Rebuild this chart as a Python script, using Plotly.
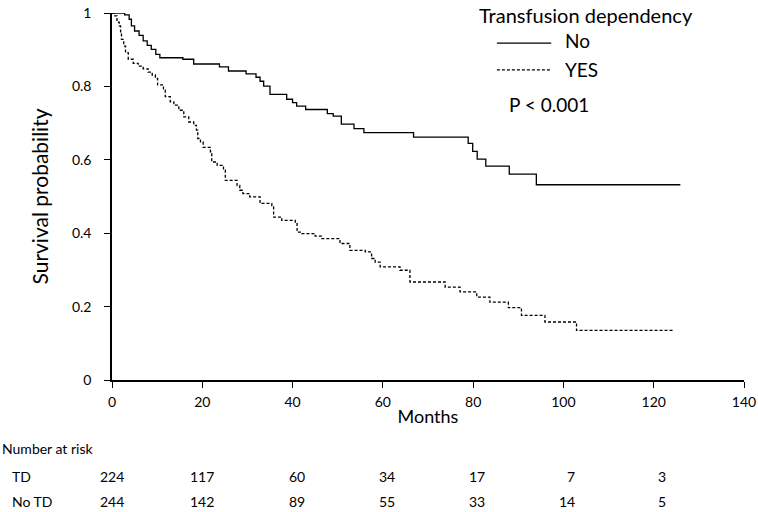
import plotly.graph_objects as go

# ---------------- data ----------------
no_time = [0, 2.8, 3.8, 4.3, 5.0, 6.0, 6.9, 7.8, 8.7, 9.7, 10.6, 15.7, 18.1, 23.8, 25.8,
           29.7, 31.9, 32.8, 33.6, 35.0, 38.7, 40.0, 40.9, 42.9, 47.7, 49.0, 50.8, 53.6,
           55.8, 66.8, 78.9, 79.9, 80.9, 82.8, 88.0, 94.0, 125.9]
no_surv = [1.0, 0.995, 0.983, 0.965, 0.951, 0.939, 0.924, 0.912, 0.901, 0.887, 0.878, 0.874,
           0.861, 0.853, 0.842, 0.834, 0.825, 0.814, 0.801, 0.778, 0.765, 0.756, 0.746, 0.737,
           0.726, 0.719, 0.697, 0.685, 0.674, 0.662, 0.645, 0.623, 0.602, 0.583, 0.561, 0.532,
           0.532]

yes_time = [0, 0.6, 1.1, 1.6, 1.9, 2.1, 2.6, 3.0, 3.6, 4.7, 5.8, 6.9, 8.0, 8.9, 9.6, 10.1,
            11.4, 11.8, 12.9, 13.7, 14.8, 15.9, 17.0, 18.1, 18.7, 19.0, 19.6, 20.2, 21.8,
            22.1, 23.3, 24.7, 25.1, 27.7, 28.3, 29.0, 30.5, 32.8, 35.4, 35.8, 37.6, 40.6,
            41.0, 42.1, 45.0, 46.5, 50.5, 52.7, 56.1, 57.5, 58.3, 59.4, 63.8, 66.0, 73.8,
            77.1, 80.8, 83.7, 87.8, 90.7, 95.9, 102.9, 124.6]
yes_surv = [1.0, 0.992, 0.975, 0.965, 0.946, 0.928, 0.910, 0.892, 0.874, 0.863, 0.855, 0.848,
            0.839, 0.831, 0.822, 0.804, 0.790, 0.772, 0.758, 0.749, 0.735, 0.717, 0.703,
            0.694, 0.681, 0.658, 0.649, 0.634, 0.622, 0.594, 0.585, 0.572, 0.544, 0.530,
            0.517, 0.508, 0.499, 0.481, 0.472, 0.444, 0.435, 0.426, 0.403, 0.399, 0.392,
            0.385, 0.372, 0.353, 0.349, 0.331, 0.321, 0.308, 0.299, 0.267, 0.253, 0.240,
            0.226, 0.212, 0.197, 0.176, 0.158, 0.135, 0.135]

risk_times = [0, 20, 40, 60, 80, 100, 120]
risk_td = [224, 117, 60, 34, 17, 7, 3]
risk_no_td = [244, 142, 89, 55, 33, 14, 5]

x_ticks = [0, 20, 40, 60, 80, 100, 120, 140]
y_ticks = [0, 0.2, 0.4, 0.6, 0.8, 1]
y_tick_labels = ["0", "0.2", "0.4", "0.6", "0.8", "1"]

FONT = "Lato"
BLACK = "#000000"

fig = go.Figure()
fig.add_trace(go.Scatter(x=no_time, y=no_surv, mode="lines", line_shape="hv",
                         line=dict(color=BLACK, width=1.3), name="No", showlegend=False))
fig.add_trace(go.Scatter(x=yes_time, y=yes_surv, mode="lines", line_shape="hv",
                         line=dict(color=BLACK, width=1.3, dash="3px,2px"), name="YES",
                         showlegend=False))

# legend-like annotations and sample lines
fig.add_annotation(xref="paper", yref="paper", x=0.578, y=0.995, text="Transfusion dependency",
                   showarrow=False, xanchor="left", yanchor="middle",
                   font=dict(family=FONT, size=20, color=BLACK))
fig.add_annotation(xref="paper", yref="paper", x=0.7136, y=0.924, text="No",
                   showarrow=False, xanchor="left", yanchor="middle",
                   font=dict(family=FONT, size=19, color=BLACK))
fig.add_annotation(xref="paper", yref="paper", x=0.7136, y=0.847, text="YES",
                   showarrow=False, xanchor="left", yanchor="middle",
                   font=dict(family=FONT, size=19, color=BLACK))
fig.add_annotation(xref="paper", yref="paper", x=0.625, y=0.752, text="P < 0.001",
                   showarrow=False, xanchor="left", yanchor="middle",
                   font=dict(family=FONT, size=19, color=BLACK))
fig.add_shape(type="line", xref="paper", yref="paper", x0=0.609, x1=0.695, y0=0.918, y1=0.918,
              line=dict(color=BLACK, width=1.3))
fig.add_shape(type="line", xref="paper", yref="paper", x0=0.609, x1=0.695, y0=0.845, y1=0.845,
              line=dict(color=BLACK, width=1.3, dash="3px,2px"))

# number at risk table
ROW_TD = -0.262
ROW_NOTD = -0.330
fig.add_annotation(xref="paper", yref="paper", x=-0.177, y=-0.188, text="Number at risk",
                   showarrow=False, xanchor="left", yanchor="middle",
                   font=dict(family=FONT, size=14, color=BLACK))
fig.add_annotation(xref="paper", yref="paper", x=-0.161, y=ROW_TD, text="TD",
                   showarrow=False, xanchor="left", yanchor="middle",
                   font=dict(family=FONT, size=14, color=BLACK))
fig.add_annotation(xref="paper", yref="paper", x=-0.161, y=ROW_NOTD, text="No TD",
                   showarrow=False, xanchor="left", yanchor="middle",
                   font=dict(family=FONT, size=14, color=BLACK))
for t, a, b in zip(risk_times, risk_td, risk_no_td):
    fig.add_annotation(xref="x", yref="paper", x=t, y=ROW_TD, text=str(a), showarrow=False,
                       xanchor="right", yanchor="middle", xshift=14,
                       font=dict(family=FONT, size=14, color=BLACK))
    fig.add_annotation(xref="x", yref="paper", x=t, y=ROW_NOTD, text=str(b), showarrow=False,
                       xanchor="right", yanchor="middle", xshift=14,
                       font=dict(family=FONT, size=14, color=BLACK))

fig.update_layout(
    width=758, height=512,
    margin=dict(l=112, r=14, t=13, b=132, autoexpand=False),
    paper_bgcolor="white", plot_bgcolor="white",
    font=dict(family=FONT, color=BLACK),
    xaxis=dict(range=[0, 140], tickvals=x_ticks, ticks="outside", ticklen=6, tickwidth=1.3,
               tickcolor=BLACK, showline=True, linecolor=BLACK, linewidth=1.5, automargin=False,
               showgrid=False, zeroline=False, tickfont=dict(family=FONT, size=14, color=BLACK),
               ticklabelstandoff=2,
               title=dict(text="Months", font=dict(family=FONT, size=18, color=BLACK), standoff=2)),
    yaxis=dict(range=[0, 1], tickvals=y_ticks, ticktext=y_tick_labels, ticks="outside",
               ticklen=6, tickwidth=1.3, tickcolor=BLACK, showline=True, linecolor=BLACK,
               linewidth=1.5, showgrid=False, zeroline=False, automargin=False,
               tickfont=dict(family=FONT, size=14, color=BLACK), ticklabelstandoff=10,
               title=dict(text="Survival probability",
                          font=dict(family=FONT, size=21, color=BLACK), standoff=18)),
)

fig.write_html("out.html", config={"displayModeBar": False},
               post_script="document.body.style.margin='0';document.body.style.overflow='hidden';")
